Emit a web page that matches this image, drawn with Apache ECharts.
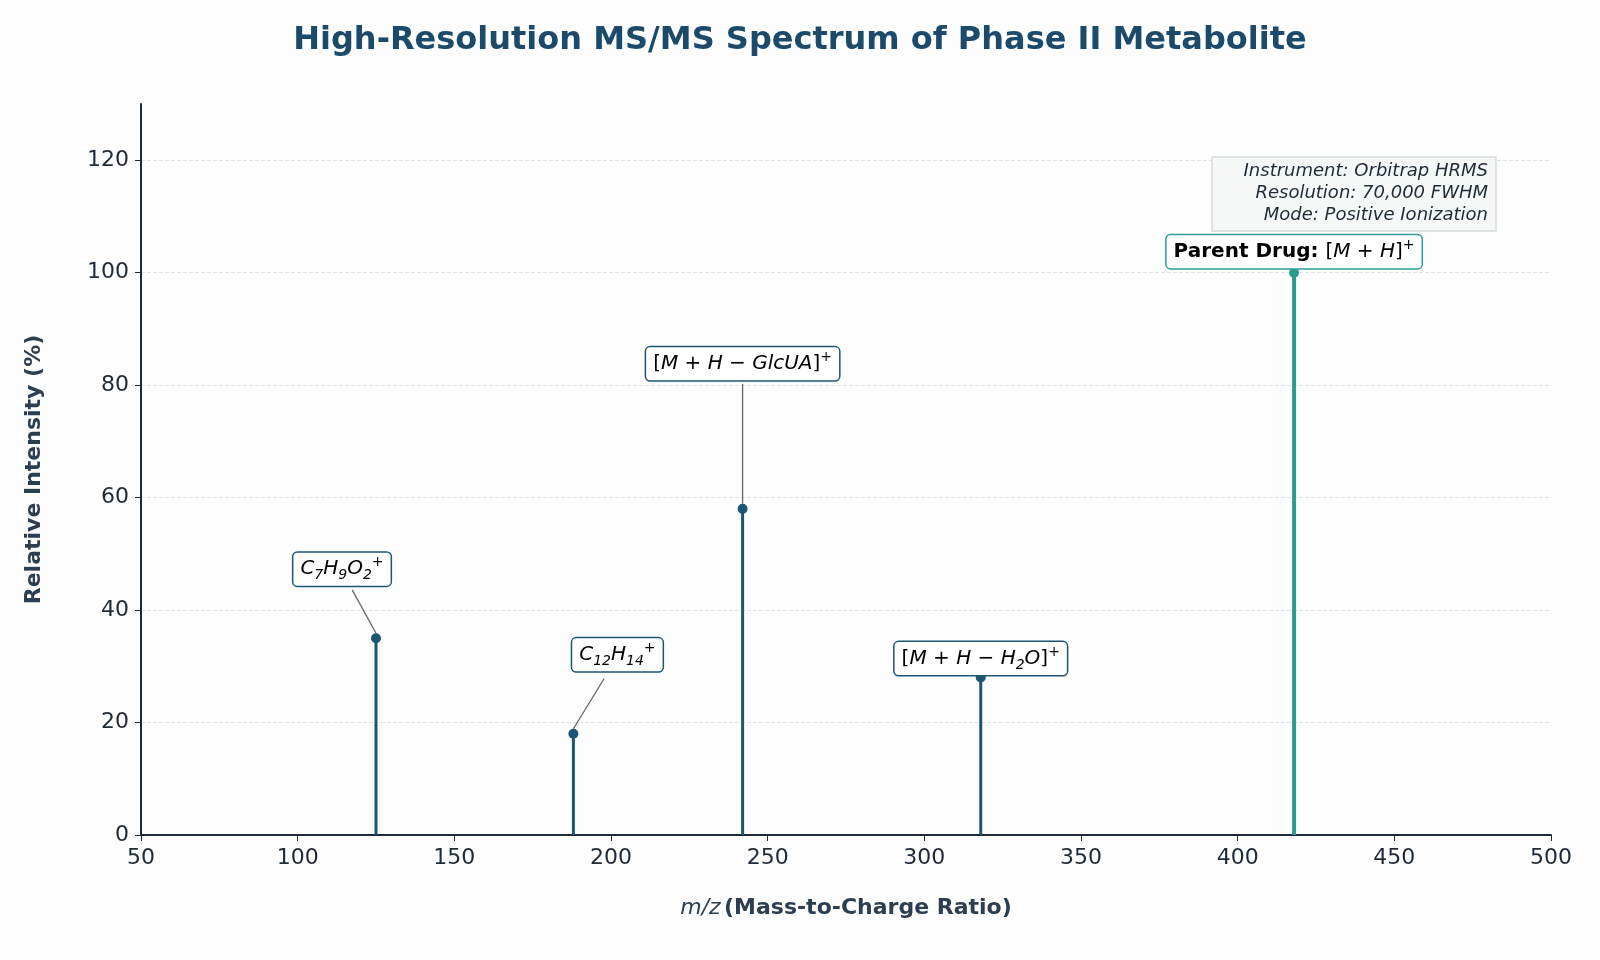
<!DOCTYPE html>
<html><head><meta charset="utf-8">
<script src="https://cdn.jsdelivr.net/npm/echarts@6/dist/echarts.min.js"></script>
<style>html,body{margin:0;background:#fdfdfd}#c{width:1600px;height:960px}</style>
</head><body><div id="c"></div>
<script>
const mz = [125, 188, 242, 318, 418];
const intensity = [35, 18, 58, 28, 100];
const labels = [
  '{i|C}{sub|7}{i|H}{sub|9}{i|O}{sub|2}{sup|+}',
  '{i|C}{sub|12}{i|H}{sub|14}{sup|+}',
  '{n|[}{i|M}{n| + }{i|H}{n| − }{i|GlcUA}{n|]}{sup|+}',
  '{n|[}{i|M}{n| + }{i|H}{n| − }{i|H}{sub|2}{i|O}{n|]}{sup|+}',
  '{b|Parent Drug: }{n|[}{i|M}{n| + }{i|H}{n|]}{sup|+}'
];
// annotation layout (pixel offsets of label box center relative to peak, leader line flag)
const layout = [[-34,-69,true],[44,-79,true],[0,-145,true],[0,-19,false],[0,-21,false]];
const dark = '#1d5573', parent = '#2a9d8f';
const rich = {
  i:{fontStyle:'italic',fontSize:20,fontFamily:'DejaVu Sans',color:'#1e2a36',lineHeight:27},
  n:{fontSize:20,fontFamily:'DejaVu Sans',color:'#1e2a36',lineHeight:27},
  b:{fontSize:20,fontWeight:'bold',fontFamily:'DejaVu Sans',color:'#1e2a36',lineHeight:27},
  sub:{fontSize:14,fontStyle:'italic',fontFamily:'DejaVu Sans',color:'#1e2a36',verticalAlign:'bottom',lineHeight:27},
  sup:{fontSize:14,fontFamily:'DejaVu Sans',color:'#1e2a36',verticalAlign:'top',lineHeight:22}
};
const chart = echarts.init(document.getElementById('c'));
chart.setOption({
  backgroundColor:'#fdfdfd',
  title:{text:'High-Resolution MS/MS Spectrum of Phase II Metabolite',left:'center',top:20,
    textStyle:{fontSize:32,fontWeight:'bold',color:'#1b4a6b',fontFamily:'DejaVu Sans'}},
  grid:{left:141,right:49,top:104,bottom:125},
  xAxis:{type:'value',min:50,max:500,interval:50,
    name:'{i|m/z} {b|(Mass-to-Charge Ratio)}',nameLocation:'middle',nameGap:62,
    nameTextStyle:{rich:{i:{fontStyle:'italic',fontSize:22,color:'#2c3e50',fontFamily:'DejaVu Sans'},
      b:{fontWeight:'bold',fontSize:22,color:'#2c3e50',fontFamily:'DejaVu Sans'}}},
    axisLine:{lineStyle:{color:'#1e2a36',width:2}},axisTick:{lineStyle:{color:'#1e2a36'},length:6},
    axisLabel:{fontSize:22,color:'#1e2a36',fontFamily:'DejaVu Sans',margin:12},splitLine:{show:false}},
  yAxis:{type:'value',min:0,max:130,interval:20,
    name:'Relative Intensity (%)',nameLocation:'middle',nameGap:96,
    nameTextStyle:{fontSize:22,fontWeight:'bold',color:'#2c3e50',fontFamily:'DejaVu Sans'},
    axisLine:{show:true,lineStyle:{color:'#1e2a36',width:2}},axisTick:{show:true,length:6,lineStyle:{color:'#1e2a36'}},
    axisLabel:{fontSize:22,color:'#1e2a36',fontFamily:'DejaVu Sans',margin:12,showMaxLabel:false},
    splitLine:{show:true,showMaxLine:false,lineStyle:{type:'dashed',color:'#dde3e8'}}},
  series:[{
    type:'custom',
    data: mz.map((x,k)=>[x,intensity[k],k]),
    renderItem:function(params,api){
      const x=api.value(0), y=api.value(1), k=api.value(2);
      const base=api.coord([x,0]), top=api.coord([x,y]);
      const isP = k===mz.length-1;
      const col = isP?parent:dark;
      const L = layout[k];
      const cx=top[0]+L[0], cy=top[1]+L[1];
      const ch=[
        {type:'line',shape:{x1:base[0],y1:base[1],x2:top[0],y2:top[1]},style:{stroke:col,lineWidth:isP?4:3}},
        {type:'circle',shape:{cx:top[0],cy:top[1],r:5},style:{fill:col}}
      ];
      if(L[2]){
        const dx=top[0]-cx, dy=top[1]-cy;
        const f=L[0]===0?20/Math.abs(dy):0.3;
        ch.push({type:'line',shape:{x1:cx+dx*f,y1:cy+(L[0]===0?20:dy*f),x2:top[0],y2:top[1]-5},
          style:{stroke:'#666',lineWidth:1.3}});
      }
      ch.push({type:'text',x:cx,y:cy,z2:10,style:{text:labels[k],rich:rich,align:'center',verticalAlign:'middle',
        backgroundColor:'#ffffff',borderColor:col,borderWidth:1.5,borderRadius:4,padding:[3,7,3,7]}});
      return {type:'group',children:ch};
    }
  }],
  graphic:[
    {type:'rect',shape:{x:1212,y:157,width:284,height:74},z:19,
      style:{fill:'#f6f7f7',stroke:'#d8dcdc',lineWidth:1.5}},
    {type:'text',x:1488,y:160,z:20,style:{
    text:'Instrument: Orbitrap HRMS\nResolution: 70,000 FWHM\nMode: Positive Ionization',
    align:'right',verticalAlign:'top',fontSize:18,fontStyle:'italic',fontFamily:'DejaVu Sans',fill:'#1e2a36',lineHeight:22}}]
});
</script></body></html>
